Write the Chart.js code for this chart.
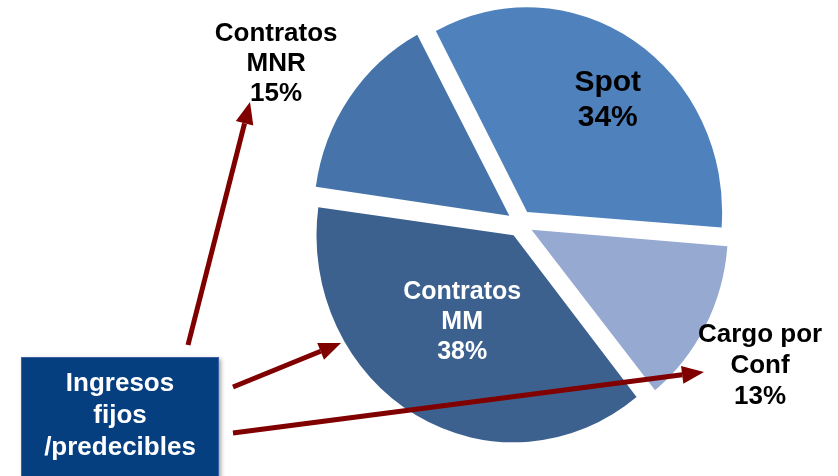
<!DOCTYPE html>
<html>
<head>
<meta charset="utf-8">
<script src="https://cdn.jsdelivr.net/npm/chart.js@4/dist/chart.umd.min.js"></script>
<style>
  html, body { margin: 0; padding: 0; background: #fff; }
</style>
</head>
<body>
<canvas id="pieChart" width="838" height="476"></canvas>
<script>
// data
const categories = ["Spot", "Cargo por Conf", "Contratos MM", "Contratos MNR"];
const shares = [34, 13, 38, 15];
const labelLines = [["Spot"], ["Cargo por", "Conf"], ["Contratos", "MM"], ["Contratos", "MNR"]];
const boxLines = ["Ingresos", "fijos", "/predecibles"];

// looks
const sliceColors = ["#4f81bd", "#95a9d1", "#3c618f", "#4674aa"];
const labelColors = ["#000", "#000", "#fff", "#000"];
const labelFont = ["bold 30px 'Liberation Sans', Arial", "bold 26px 'Liberation Sans', Arial",
                   "bold 25px 'Liberation Sans', Arial", "bold 26px 'Liberation Sans', Arial"];
const labelLineH = [35, 31, 30, 30];
const labelRadius = [0.761, 1.429, 0.572, 1.49];
const labelTurn = [3.5, 1.7, 2, -3];   // degrees
const yStretch = 1.05;
const arrowColor = "#800000";

const stretch = {
  id: "stretch",
  beforeDatasetsDraw(chart) {
    const a = chart.getDatasetMeta(0).data[0];
    const c = chart.ctx;
    c.save();
    c.translate(a.x, a.y);
    c.scale(1, yStretch);
    c.translate(-a.x, -a.y);
  },
  afterDatasetsDraw(chart) {
    chart.ctx.restore();
  }
};

function arrow(c, x1, y1, x2, y2) {
  const ang = Math.atan2(y2 - y1, x2 - x1);
  const head = 22, half = 9;
  const bx = x2 - Math.cos(ang) * head, by = y2 - Math.sin(ang) * head;
  c.strokeStyle = arrowColor;
  c.fillStyle = arrowColor;
  c.lineWidth = 5;
  c.beginPath();
  c.moveTo(x1, y1);
  c.lineTo(bx, by);
  c.stroke();
  c.beginPath();
  c.moveTo(x2, y2);
  c.lineTo(bx - Math.sin(ang) * half, by + Math.cos(ang) * half);
  c.lineTo(bx + Math.sin(ang) * half, by - Math.cos(ang) * half);
  c.closePath();
  c.fill();
}

const annotations = {
  id: "annotations",
  afterDraw(chart) {
    const c = chart.ctx;
    const arcs = chart.getDatasetMeta(0).data;
    c.save();
    c.textAlign = "center";
    c.textBaseline = "middle";
    arcs.forEach((a, i) => {
      const mid = (a.startAngle + a.endAngle) / 2 + labelTurn[i] * Math.PI / 180;
      const r = a.outerRadius * labelRadius[i];
      const x = a.x + Math.cos(mid) * r;
      const y = a.y + Math.sin(mid) * r * yStretch;
      const lines = labelLines[i].concat([shares[i] + "%"]);
      const h = labelLineH[i];
      c.font = labelFont[i];
      c.fillStyle = labelColors[i];
      lines.forEach((t, k) => {
        c.fillText(t, x, y + (k - (lines.length - 1) / 2) * h);
      });
    });

    // box
    c.save();
    c.shadowColor = "rgba(0,0,0,0.35)";
    c.shadowBlur = 4;
    c.shadowOffsetX = 2;
    c.shadowOffsetY = 2;
    c.fillStyle = "#063f80";
    c.fillRect(21, 357, 198, 125);
    c.restore();
    c.strokeStyle = "#3d5fa3";
    c.lineWidth = 1;
    c.strokeRect(21.5, 357.5, 197, 125);
    c.font = "bold 26px 'Liberation Sans', Arial";
    c.fillStyle = "#fff";
    boxLines.forEach((t, k) => c.fillText(t, 120, 384 + k * 32));

    arrow(c, 188, 345, 250, 102);
    arrow(c, 233, 387, 341, 343);
    arrow(c, 233, 433, 704, 372);
    c.restore();
  }
};

new Chart(document.getElementById("pieChart"), {
  type: "pie",
  data: {
    labels: categories,
    datasets: [{
      data: shares,
      backgroundColor: sliceColors,
      borderWidth: 0,
      offset: 52,
      hoverOffset: 0,
      radius: 193
    }]
  },
  options: {
    responsive: false,
    animation: false,
    events: [],
    rotation: -28,
    layout: { padding: { left: 202, right: 0, top: 0, bottom: 29 } },
    plugins: {
      legend: { display: false },
      tooltip: { enabled: false }
    }
  },
  plugins: [stretch, annotations]
});
</script>
</body>
</html>
